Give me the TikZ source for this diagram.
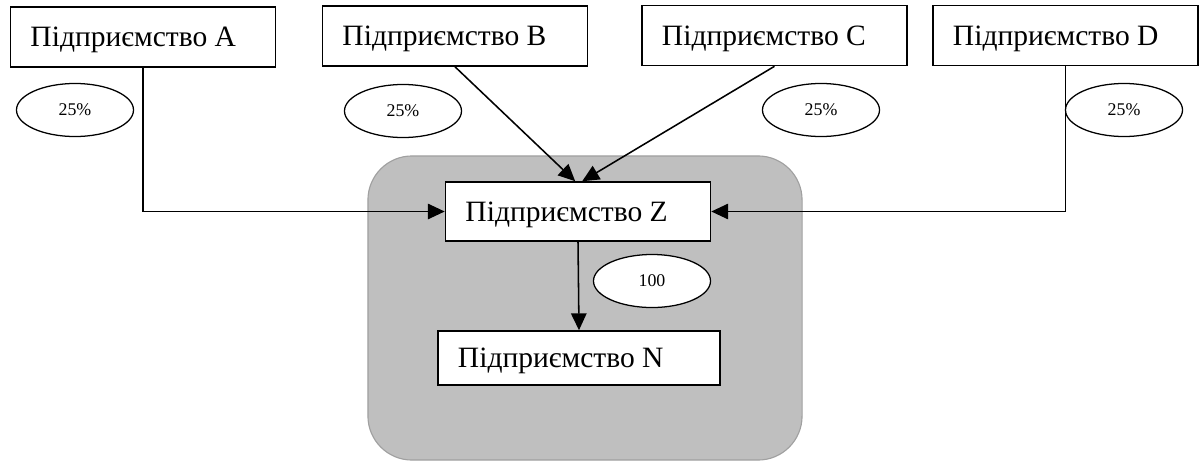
\documentclass[tikz,border=0pt]{standalone}
\usepackage{fontspec}
\setmainfont{Liberation Serif}
\usepackage{tikz}
\usetikzlibrary{shapes.geometric, arrows.meta, positioning}
\definecolor{panelgray}{RGB}{191, 191, 191}
\definecolor{paneledge}{RGB}{160, 160, 160}

\begin{document}
\begin{tikzpicture}[
  x=0.025cm, y=-0.025cm,
  firmbox/.style={draw, line width=1.1pt, fill=white, minimum width=6.625cm, minimum height=1.5cm, text width=5.625cm, inner xsep=0.5cm, text height=14pt, text depth=0pt, align=flush left, font=\fontsize{21}{24}\selectfont},
  sharebox/.style={draw, ellipse, line width=0.9pt, fill=white, minimum width=2.925cm, minimum height=1.325cm, inner sep=0pt, font=\fontsize{12.7}{14}\selectfont},
  arr/.style={line width=1.1pt, -{Triangle[length=12pt, width=11pt]}}
]
  \useasboundingbox (0,0) rectangle (1202,461);

  % Group of Z and N
  \node[draw=paneledge, fill=panelgray, line width=0.8pt, rounded corners=1.1cm, minimum width=10.85cm, minimum height=7.6cm] (group) at (585,308) {};

  % Owners
  \node[firmbox] (a) at (143,37) {Підприємство A};
  \node[firmbox] (b) at (455,36) {Підприємство B};
  \node[firmbox] (c) at (774.5,35.5) {Підприємство C};
  \node[firmbox] (d) at (1065.5,35.5) {Підприємство D};

  % Shares
  \node[sharebox] (sa) at (75,110) {25\%};
  \node[sharebox] (sb) at (403,111) {25\%};
  \node[sharebox] (sc) at (821,110) {25\%};
  \node[sharebox] (sd) at (1124,110) {25\%};

  % Inner firms
  \node[firmbox, minimum height=1.475cm] (z) at (578,211.5) {Підприємство Z};
  \node[firmbox, minimum width=7.05cm, text width=6.05cm, minimum height=1.35cm] (n) at (579,358) {Підприємство N};
  \node[sharebox] (sz) at (652,281) {100};

  % Connectors
  \draw[arr] (a.south) |- (z.west);
  \draw[arr] (d.south) |- (z.east);
  \draw[arr] (b.south) -- ([xshift=-2pt]z.north);
  \draw[arr] (c.south) -- ([xshift=3pt]z.north);
  \draw[arr] (z.south) -- (n.north);
\end{tikzpicture}
\end{document}
